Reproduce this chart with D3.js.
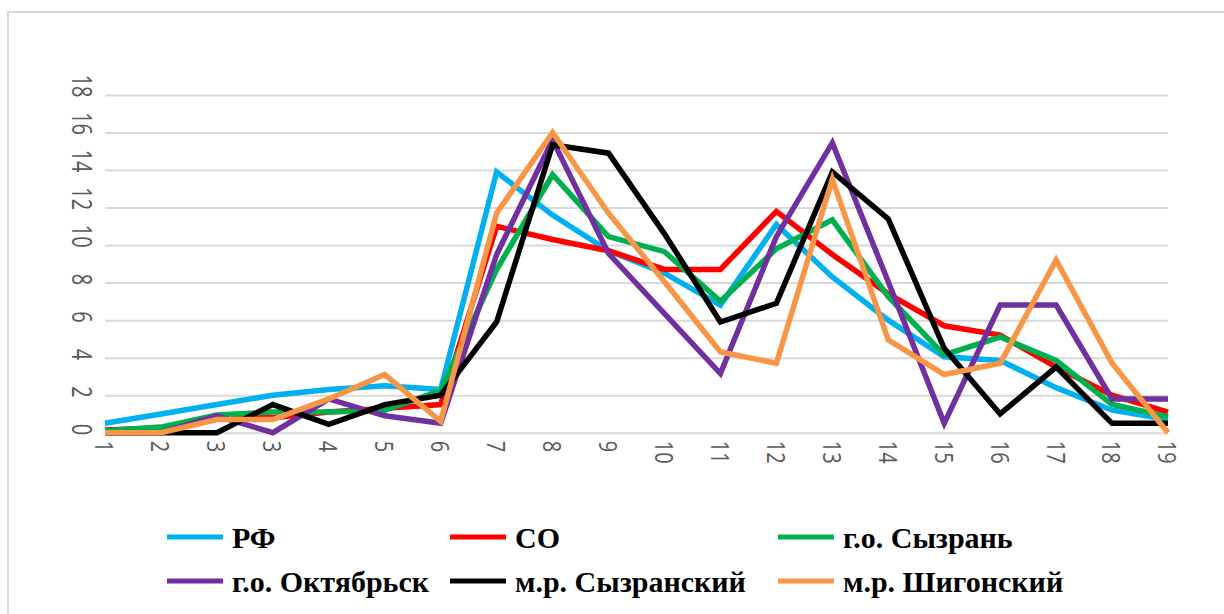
<!DOCTYPE html>
<html>
<head>
<meta charset="utf-8">
<script src="https://cdn.jsdelivr.net/npm/d3@7"></script>
<style>
  html, body { margin: 0; padding: 0; background: #fff; }
  svg { display: block; }
  .legend-text { font-family: "Liberation Serif", "DejaVu Serif", "Noto Serif", serif; font-weight: bold; font-size: 30px; }
  .tick-label { font-family: "Open Sans", "Liberation Sans", sans-serif; font-size: 20px; }
</style>
</head>
<body>
<svg id="chart" width="1224" height="614"></svg>
<script>
// ---- data ----
const categories = ["1","2","3","3","4","5","6","7","8","9","10","11","12","13","14","15","16","17","18","19"];
const yTicks = [0,2,4,6,8,10,12,14,16,18];
const seriesNames = ["РФ","СО","г.о. Сызрань","г.о. Октябрьск","м.р. Сызранский","м.р. Шигонский"];
const seriesColors = ["#00B0F0","#FF0000","#00B050","#7030A0","#000000","#F79646"];
const valuesRF        = [0.5,1.0,1.5,2.0,2.3,2.5,2.3,13.9,11.6,9.7,8.5,6.8,11.1,8.3,6.0,4.05,3.85,2.4,1.2,0.7];
const valuesSO        = [0.15,0.25,0.8,0.8,1.1,1.3,1.5,11.0,10.3,9.7,8.7,8.7,11.8,9.5,7.4,5.7,5.2,3.5,2.0,1.1];
const valuesSyzran    = [0.1,0.3,0.95,1.1,1.1,1.2,2.25,8.7,13.75,10.45,9.65,7.0,9.8,11.35,7.25,4.15,5.1,3.85,1.5,0.85];
const valuesOktyabrsk = [0,0,0.9,0,1.8,0.9,0.5,9.5,15.6,9.55,6.35,3.15,10.45,15.45,8.05,0.5,6.8,6.8,1.8,1.8];
const valuesSyzranMR  = [0,0,0,1.5,0.45,1.5,2.0,5.9,15.35,14.9,10.6,5.9,6.9,13.9,11.4,4.5,1.0,3.5,0.5,0.5];
const valuesShigony   = [0,0,0.7,0.7,1.8,3.1,0.6,11.7,16.0,11.7,8.05,4.3,3.7,13.5,4.95,3.1,3.7,9.2,3.7,0];
const allValues = [valuesRF, valuesSO, valuesSyzran, valuesOktyabrsk, valuesSyzranMR, valuesShigony];

// ---- layout ----
const svg = d3.select("#chart");
const W = 1224, H = 614;
const plot = { left: 105, right: 1168, top: 95, bottom: 432.7 };

// frame
svg.append("rect")
  .attr("x", 8).attr("y", 12)
  .attr("width", W + 20).attr("height", H + 20)
  .attr("fill", "none").attr("stroke", "#d9d9d9").attr("stroke-width", 2);

const x = d3.scalePoint()
  .domain(d3.range(categories.length))
  .range([plot.left, plot.right])
  .padding(0);

const y = d3.scaleLinear()
  .domain([0, 18])
  .range([plot.bottom, plot.top]);

// gridlines + y labels
const yAxis = d3.axisLeft(y)
  .tickValues(yTicks)
  .tickSize(-(plot.right - plot.left))
  .tickFormat(d3.format("d"));
const gy = svg.append("g")
  .attr("transform", `translate(${plot.left},0)`)
  .call(yAxis);
gy.select(".domain").remove();
gy.selectAll(".tick line").attr("stroke", "#d9d9d9").attr("stroke-width", 2);
gy.selectAll(".tick text")
  .attr("class", "tick-label")
  .attr("fill", "#595959")
  .attr("font-family", null).attr("font-size", null)
  .attr("text-anchor", "end")
  .attr("dy", null)
  .attr("x", null)
  .attr("transform", "translate(-23,2) rotate(90) scale(1,1.35)")
  .attr("dominant-baseline", "central");

// x axis labels
const xAxis = d3.axisBottom(x)
  .tickSize(0)
  .tickFormat(i => categories[i]);
const gx = svg.append("g")
  .attr("transform", `translate(0,${plot.bottom})`)
  .call(xAxis);
gx.select(".domain").remove();
gx.selectAll(".tick text")
  .attr("class", "tick-label")
  .attr("fill", "#595959")
  .attr("font-family", null).attr("font-size", null)
  .attr("text-anchor", "start")
  .attr("dy", null)
  .attr("y", null)
  .attr("transform", "translate(0,8) rotate(90) scale(1,1.3)")
  .attr("dominant-baseline", "central");

// lines
const line = d3.line()
  .x((d, i) => x(i))
  .y(d => y(d));

svg.append("g").selectAll("path")
  .data(allValues)
  .join("path")
  .attr("d", d => line(d))
  .attr("fill", "none")
  .attr("stroke", (d, i) => seriesColors[i])
  .attr("stroke-width", 5.5)
  .attr("stroke-linejoin", "miter")
  .attr("stroke-linecap", "butt");

// legend
const legendCols = [167, 450, 778];
const legendRows = [537, 581];
const lg = svg.append("g");
seriesNames.forEach((name, i) => {
  const cx = legendCols[i % 3], cy = legendRows[Math.floor(i / 3)];
  lg.append("line")
    .attr("x1", cx).attr("x2", cx + 56)
    .attr("y1", cy).attr("y2", cy)
    .attr("stroke", seriesColors[i]).attr("stroke-width", 5);
  lg.append("text")
    .attr("class", "legend-text")
    .attr("x", cx + 65).attr("y", cy + 11)
    .attr("fill", "#000")
    .text(name);
});
</script>
</body>
</html>
